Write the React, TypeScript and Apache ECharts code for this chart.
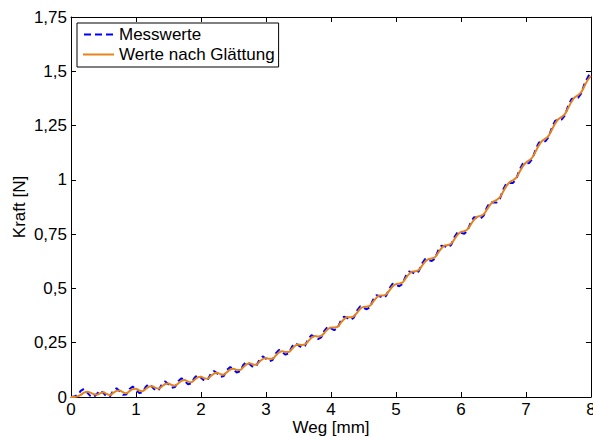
import React, { useEffect, useRef } from "react";
import * as echarts from "echarts";

const weg = [
  0, 0.05, 0.1, 0.15, 0.2, 0.25, 0.3, 0.35, 0.4, 0.45, 0.5, 0.55, 0.6, 0.65, 0.7, 0.75, 0.8, 0.85, 0.9, 0.95,
  1, 1.05, 1.1, 1.15, 1.2, 1.25, 1.3, 1.35, 1.4, 1.45, 1.5, 1.55, 1.6, 1.65, 1.7, 1.75, 1.8, 1.85, 1.9, 1.95,
  2, 2.05, 2.1, 2.15, 2.2, 2.25, 2.3, 2.35, 2.4, 2.45, 2.5, 2.55, 2.6, 2.65, 2.7, 2.75, 2.8, 2.85, 2.9, 2.95,
  3, 3.05, 3.1, 3.15, 3.2, 3.25, 3.3, 3.35, 3.4, 3.45, 3.5, 3.55, 3.6, 3.65, 3.7, 3.75, 3.8, 3.85, 3.9, 3.95,
  4, 4.05, 4.1, 4.15, 4.2, 4.25, 4.3, 4.35, 4.4, 4.45, 4.5, 4.55, 4.6, 4.65, 4.7, 4.75, 4.8, 4.85, 4.9, 4.95,
  5, 5.05, 5.1, 5.15, 5.2, 5.25, 5.3, 5.35, 5.4, 5.45, 5.5, 5.55, 5.6, 5.65, 5.7, 5.75, 5.8, 5.85, 5.9, 5.95,
  6, 6.05, 6.1, 6.15, 6.2, 6.25, 6.3, 6.35, 6.4, 6.45, 6.5, 6.55, 6.6, 6.65, 6.7, 6.75, 6.8, 6.85, 6.9, 6.95,
  7, 7.05, 7.1, 7.15, 7.2, 7.25, 7.3, 7.35, 7.4, 7.45, 7.5, 7.55, 7.6, 7.65, 7.7, 7.75, 7.8, 7.85, 7.9, 7.95,
  8,
];

const messwerte = [
  0.0, 0.002, 0.008, 0.028, 0.038, 0.02, 0.004, 0.0, 0.015, 0.03,
  0.018, 0.002, 0.003, 0.029, 0.04, 0.026, 0.01, 0.011, 0.037, 0.048,
  0.034, 0.018, 0.021, 0.047, 0.06, 0.046, 0.03, 0.033, 0.059, 0.072,
  0.058, 0.043, 0.046, 0.073, 0.086, 0.074, 0.059, 0.062, 0.089, 0.102,
  0.089, 0.075, 0.078, 0.106, 0.12, 0.108, 0.093, 0.097, 0.125, 0.138,
  0.126, 0.113, 0.118, 0.147, 0.162, 0.151, 0.138, 0.143, 0.172, 0.187,
  0.176, 0.164, 0.17, 0.201, 0.217, 0.207, 0.195, 0.201, 0.232, 0.248,
  0.238, 0.228, 0.236, 0.267, 0.285, 0.277, 0.267, 0.275, 0.306, 0.324,
  0.316, 0.308, 0.317, 0.351, 0.37, 0.364, 0.355, 0.365, 0.398, 0.418,
  0.411, 0.404, 0.414, 0.449, 0.469, 0.464, 0.456, 0.467, 0.501, 0.522,
  0.516, 0.51, 0.521, 0.557, 0.578, 0.574, 0.567, 0.579, 0.614, 0.636,
  0.631, 0.626, 0.638, 0.675, 0.697, 0.694, 0.688, 0.701, 0.737, 0.76,
  0.756, 0.752, 0.766, 0.804, 0.828, 0.826, 0.822, 0.836, 0.874, 0.898,
  0.896, 0.896, 0.914, 0.956, 0.984, 0.986, 0.986, 1.004, 1.046, 1.074,
  1.076, 1.078, 1.098, 1.142, 1.172, 1.176, 1.178, 1.198, 1.242, 1.272,
  1.276, 1.278, 1.298, 1.342, 1.372, 1.376, 1.378, 1.398, 1.442, 1.472,
  1.5,
];

const geglaettet = [
  0.0, 0.0, 0.003, 0.01, 0.02, 0.024, 0.02, 0.013, 0.011, 0.017,
  0.022, 0.014, 0.009, 0.019, 0.028, 0.03, 0.022, 0.017, 0.027, 0.036,
  0.038, 0.03, 0.027, 0.037, 0.048, 0.05, 0.042, 0.039, 0.049, 0.06,
  0.062, 0.055, 0.052, 0.063, 0.074, 0.078, 0.071, 0.068, 0.079, 0.09,
  0.093, 0.087, 0.084, 0.096, 0.108, 0.112, 0.105, 0.103, 0.115, 0.126,
  0.13, 0.125, 0.124, 0.137, 0.15, 0.155, 0.15, 0.149, 0.162, 0.175,
  0.18, 0.176, 0.176, 0.191, 0.205, 0.211, 0.207, 0.207, 0.222, 0.236,
  0.242, 0.24, 0.242, 0.257, 0.273, 0.281, 0.279, 0.281, 0.296, 0.312,
  0.32, 0.32, 0.323, 0.341, 0.358, 0.368, 0.367, 0.371, 0.388, 0.406,
  0.415, 0.416, 0.42, 0.439, 0.457, 0.468, 0.468, 0.473, 0.491, 0.51,
  0.52, 0.522, 0.527, 0.547, 0.566, 0.578, 0.579, 0.585, 0.604, 0.624,
  0.635, 0.638, 0.644, 0.665, 0.685, 0.698, 0.7, 0.707, 0.727, 0.748,
  0.76, 0.764, 0.772, 0.794, 0.816, 0.83, 0.834, 0.842, 0.864, 0.886,
  0.9, 0.908, 0.92, 0.946, 0.972, 0.99, 0.998, 1.01, 1.036, 1.062,
  1.08, 1.09, 1.104, 1.132, 1.16, 1.18, 1.19, 1.204, 1.232, 1.26,
  1.28, 1.29, 1.304, 1.332, 1.36, 1.38, 1.39, 1.404, 1.432, 1.46,
  1.478,
];

const seriesNames = ["Messwerte", "Werte nach Glättung"];
const xName = "Weg [mm]";
const yName = "Kraft [N]";

const BLUE = "#0000ff";
const ORANGE = "#e5831c";
const FONT = "'Liberation Sans', Arial, Helvetica, sans-serif";
const FS = 17;

export default function App() {
  const ref = useRef<HTMLDivElement>(null);

  useEffect(() => {
    document.body.style.margin = "0";
    if (!ref.current) return;
    const chart = echarts.init(ref.current, undefined, { renderer: "svg" });
    const fmt = (v: number) => String(v).replace(".", ",");
    const tickStyle = { inside: true, length: 5, lineStyle: { color: "#000", width: 1 } };
    const axisLine = { show: true, onZero: false, lineStyle: { color: "#000", width: 1 } };
    const labelStyle = { color: "#000", fontSize: FS, fontFamily: FONT };

    chart.setOption({
      animation: false,
      backgroundColor: "#fff",
      textStyle: { fontFamily: FONT },
      grid: {
        left: 71,
        right: 2,
        top: 17,
        bottom: 40,
        show: false,
        containLabel: false,
        outerBoundsMode: "none",
      },
      legend: {
        left: 77,
        top: 23,
        orient: "vertical",
        data: [
          { name: seriesNames[0], icon: "path://M0,0h7v2h-7z M11,0h7v2h-7z M22,0h7v2h-7z" },
          { name: seriesNames[1], icon: "rect" },
        ],
        itemWidth: 31,
        itemHeight: 2,
        itemGap: 3,
        padding: [3, 4, 4, 6],
        borderColor: "#000",
        borderWidth: 1,
        borderRadius: 0,
        backgroundColor: "#fff",
        textStyle: { color: "#000", fontSize: FS, fontFamily: FONT, lineHeight: 17 },
      },
      xAxis: [
        {
          type: "value",
          min: 0,
          max: 8,
          interval: 1,
          position: "bottom",
          name: xName,
          nameLocation: "middle",
          nameGap: 22,
          nameMoveOverlap: false,
          nameTextStyle: { ...labelStyle, lineHeight: 17 },
          axisLine,
          axisTick: tickStyle,
          axisLabel: { ...labelStyle, lineHeight: 17, margin: 4, formatter: fmt },
          splitLine: { show: false },
        },
        {
          type: "value",
          min: 0,
          max: 8,
          interval: 1,
          position: "top",
          axisLine,
          axisTick: tickStyle,
          axisLabel: { show: false },
          splitLine: { show: false },
        },
      ],
      yAxis: [
        {
          type: "value",
          min: 0,
          max: 1.75,
          interval: 0.25,
          position: "left",
          name: yName,
          nameLocation: "middle",
          nameGap: 43,
          nameMoveOverlap: false,
          nameRotate: 90,
          nameTextStyle: labelStyle,
          axisLine,
          axisTick: tickStyle,
          axisLabel: { ...labelStyle, margin: 4, formatter: fmt },
          splitLine: { show: false },
        },
        {
          type: "value",
          min: 0,
          max: 1.75,
          interval: 0.25,
          position: "right",
          axisLine,
          axisTick: tickStyle,
          axisLabel: { show: false },
          splitLine: { show: false },
        },
      ],
      series: [
        {
          name: seriesNames[0],
          type: "line",
          symbol: "none",
          data: weg.map((x, i) => [x, messwerte[i]]),
          lineStyle: { color: BLUE, width: 2, type: [6, 4] },
          itemStyle: { color: BLUE },
        },
        {
          name: seriesNames[1],
          type: "line",
          symbol: "none",
          smooth: 0.3,
          data: weg.map((x, i) => [x, geglaettet[i]]),
          lineStyle: { color: ORANGE, width: 2 },
          itemStyle: { color: ORANGE },
        },
      ],
    });
    return () => chart.dispose();
  }, []);

  return (
    <div
      ref={ref}
      style={{ position: "fixed", left: 0, top: 0, width: 593, height: 437 }}
    />
  );
}
